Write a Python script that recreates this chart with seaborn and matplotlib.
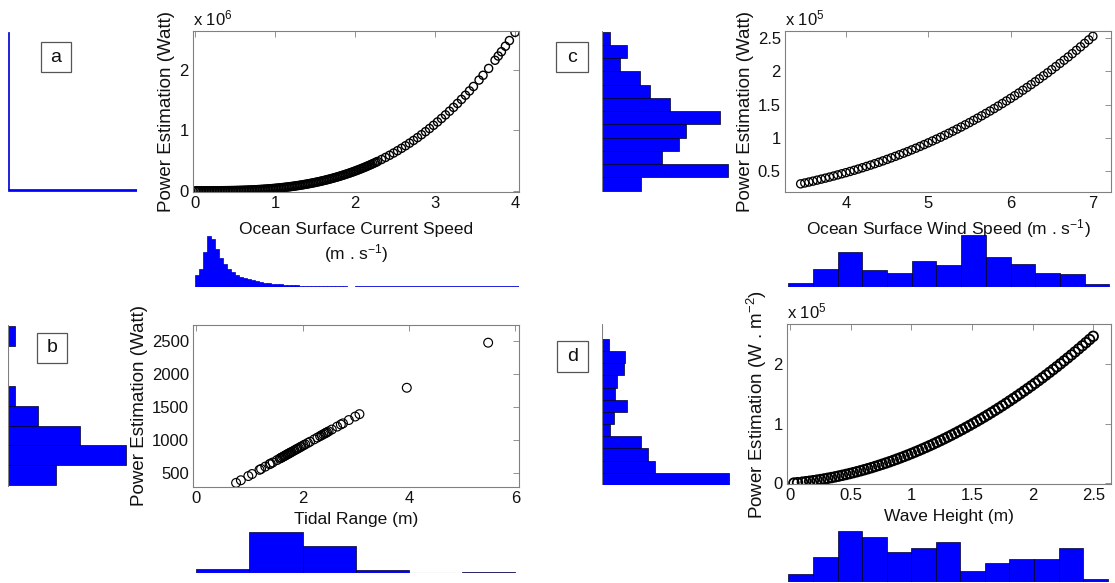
import numpy as np
import matplotlib
matplotlib.use("Agg")
import matplotlib.pyplot as plt
import seaborn as sns
from matplotlib.patches import Rectangle
from matplotlib.ticker import FormatStrFormatter

# ---- a: ocean surface current (power in x 1e6 W) ----
current_speed = [0.00, 0.04, 0.08, 0.12, 0.16, 0.20, 0.24, 0.28, 0.32, 0.36, 0.40, 0.44, 0.48, 0.52,
                 0.56, 0.60, 0.64, 0.68, 0.72, 0.76, 0.80, 0.84, 0.88, 0.92, 0.96, 1.00, 1.04, 1.08,
                 1.12, 1.16, 1.20, 1.24, 1.28, 1.32, 1.36, 1.40, 1.44, 1.48, 1.52, 1.56, 1.60, 1.64,
                 1.68, 1.72, 1.76, 1.80, 1.84, 1.88, 1.92, 1.96, 2.00, 2.04, 2.08, 2.12, 2.16, 2.20,
                 2.24, 2.28, 2.33, 2.38, 2.43, 2.48, 2.53, 2.58, 2.63, 2.68, 2.73, 2.78, 2.83, 2.88,
                 2.93, 2.98, 3.03, 3.08, 3.13, 3.18, 3.23, 3.28, 3.33, 3.38, 3.43, 3.48, 3.55, 3.60,
                 3.67, 3.75, 3.79, 3.83, 3.88, 3.93, 4.00,
                 0.02, 0.06, 0.10, 0.14, 0.18, 0.22, 0.26, 0.30, 0.34, 0.38, 0.42, 0.46, 0.50, 0.54,
                 0.58, 0.62, 0.66, 0.70, 0.74, 0.78, 0.82, 0.86, 0.90, 0.94, 0.98, 1.02, 1.06, 1.10,
                 1.14, 1.18, 1.22, 1.26, 1.30, 1.34, 1.38, 1.42, 1.46, 1.50, 1.54, 1.58, 1.62, 1.66,
                 1.70, 1.74, 1.78, 1.82, 1.86, 1.90, 1.94, 1.98, 2.02, 2.06, 2.10, 2.14, 2.18, 2.22,
                 2.26]
current_power = [0.0000, 0.0000, 0.0000, 0.0001, 0.0002, 0.0003, 0.0006, 0.0009, 0.0013, 0.0019,
                 0.0026, 0.0035, 0.0045, 0.0058, 0.0072, 0.0089, 0.0108, 0.0129, 0.0153, 0.0180,
                 0.0210, 0.0243, 0.0280, 0.0320, 0.0363, 0.0411, 0.0462, 0.0517, 0.0577, 0.0641,
                 0.0709, 0.0783, 0.0861, 0.0944, 0.1033, 0.1126, 0.1226, 0.1331, 0.1442, 0.1558,
                 0.1681, 0.1811, 0.1946, 0.2089, 0.2238, 0.2394, 0.2557, 0.2728, 0.2905, 0.3091,
                 0.3284, 0.3485, 0.3694, 0.3911, 0.4137, 0.4371, 0.4614, 0.4865, 0.5193, 0.5534,
                 0.5890, 0.6261, 0.6648, 0.7050, 0.7468, 0.7902, 0.8352, 0.8820, 0.9304, 0.9806,
                 1.0326, 1.0863, 1.1419, 1.1994, 1.2588, 1.3200, 1.3833, 1.4486, 1.5158, 1.5851,
                 1.6565, 1.7300, 1.8365, 1.9152, 2.0291, 2.1647, 2.2348, 2.3063, 2.3978, 2.4917,
                 2.6272,
                 0.0000, 0.0000, 0.0000, 0.0001, 0.0002, 0.0004, 0.0007, 0.0011, 0.0016, 0.0023,
                 0.0030, 0.0040, 0.0051, 0.0065, 0.0080, 0.0098, 0.0118, 0.0141, 0.0166, 0.0195,
                 0.0226, 0.0261, 0.0299, 0.0341, 0.0386, 0.0436, 0.0489, 0.0546, 0.0608, 0.0674,
                 0.0745, 0.0821, 0.0902, 0.0988, 0.1079, 0.1175, 0.1278, 0.1385, 0.1499, 0.1619,
                 0.1745, 0.1878, 0.2017, 0.2162, 0.2315, 0.2475, 0.2641, 0.2816, 0.2997, 0.3187,
                 0.3384, 0.3589, 0.3802, 0.4023, 0.4253, 0.4491, 0.4739]
current_speed_counts = [12, 18, 35, 51, 48, 38, 29, 23, 18, 15, 12, 10.5, 9, 8, 7, 6, 5.2, 4.5, 4, 3.5,
                        3, 2.7, 2.4, 2.1, 1.9, 1.7, 1.5, 1.3, 1.2, 1.1, 1.0, 0.9, 0.8, 0.8, 0.7, 0.7,
                        0.6, 0.6, 0.5, 0.5, 1.0]
current_power_counts = [129, 1.0]

# ---- b: tidal range ----
tidal_range = [0.75, 0.84, 0.98, 1.05, 1.19, 1.22, 1.30, 1.38, 1.40, 1.44, 1.52, 1.57, 1.60, 1.60,
               1.63, 1.65, 1.67, 1.68, 1.70, 1.72, 1.74, 1.75, 1.77, 1.79, 1.82, 1.85, 1.88, 1.90,
               1.93, 1.96, 1.98, 2.02, 2.05, 2.10, 2.14, 2.22, 2.28, 2.33, 2.36, 2.39, 2.42, 2.44,
               2.46, 2.49, 2.55, 2.65, 2.72, 2.76, 2.87, 2.99, 3.07, 3.96, 5.49]
tidal_power = [355, 395, 458, 489, 552, 565, 601, 637, 646, 663, 699, 722, 735, 735, 748, 757, 766,
               771, 780, 789, 798, 802, 811, 820, 833, 847, 860, 869, 882, 896, 905, 923, 936, 958,
               976, 1012, 1039, 1061, 1075, 1088, 1101, 1110, 1119, 1133, 1160, 1204, 1236, 1253,
               1303, 1356, 1392, 1790, 2470]
tidal_range_counts = [4.3, 40.7, 26.7, 3.3, 0, 1.3]
tidal_power_counts = [47.7, 118.3, 71.7, 30, 6.7, 0, 0, 6.7]

# ---- c: ocean surface wind (power in x 1e5 W) ----
wind_speed = [3.45, 3.50, 3.55, 3.60, 3.65, 3.70, 3.75, 3.80, 3.85, 3.90, 3.95, 4.00, 4.05, 4.10,
              4.15, 4.20, 4.25, 4.30, 4.35, 4.40, 4.45, 4.50, 4.55, 4.60, 4.65, 4.70, 4.75, 4.80,
              4.85, 4.90, 4.95, 5.00, 5.05, 5.10, 5.15, 5.20, 5.25, 5.30, 5.35, 5.40, 5.45, 5.50,
              5.55, 5.60, 5.65, 5.70, 5.75, 5.80, 5.85, 5.90, 5.95, 6.00, 6.05, 6.10, 6.15, 6.20,
              6.25, 6.30, 6.35, 6.40, 6.45, 6.50, 6.55, 6.60, 6.65, 6.70, 6.75, 6.80, 6.85, 6.90,
              6.95, 7.00]
wind_power = [0.303, 0.316, 0.330, 0.344, 0.359, 0.374, 0.389, 0.405, 0.421, 0.438, 0.455, 0.472,
              0.490, 0.508, 0.527, 0.546, 0.566, 0.586, 0.607, 0.628, 0.650, 0.672, 0.695, 0.718,
              0.742, 0.766, 0.790, 0.816, 0.841, 0.868, 0.895, 0.922, 0.950, 0.978, 1.007, 1.037,
              1.067, 1.098, 1.129, 1.161, 1.194, 1.227, 1.261, 1.295, 1.330, 1.366, 1.402, 1.439,
              1.477, 1.515, 1.554, 1.593, 1.633, 1.674, 1.716, 1.758, 1.801, 1.844, 1.889, 1.934,
              1.979, 2.026, 2.073, 2.121, 2.169, 2.218, 2.268, 2.319, 2.371, 2.423, 2.476, 2.530]
wind_speed_counts = [4, 18, 35, 16.7, 14, 26.3, 22.3, 52.3, 30, 23.3, 14, 13, 3.3]
wind_power_counts = [39, 126, 60, 76.7, 84.3, 117.7, 67.7, 48.3, 37.7, 17.7, 25, 8.3]

# ---- d: wave height (power in x 1e5 W/m2) ----
wave_height = [0.03, 0.06, 0.10, 0.13, 0.16, 0.19, 0.22, 0.25, 0.28, 0.31, 0.34, 0.37, 0.40, 0.43,
               0.46, 0.49, 0.52, 0.55, 0.58, 0.61, 0.64, 0.67, 0.70, 0.73, 0.76, 0.79, 0.82, 0.85,
               0.88, 0.91, 0.94, 0.97, 1.00, 1.03, 1.06, 1.09, 1.12, 1.15, 1.18, 1.21, 1.24, 1.27,
               1.30, 1.33, 1.36, 1.39, 1.42, 1.45, 1.48, 1.51, 1.54, 1.57, 1.60, 1.63, 1.66, 1.69,
               1.72, 1.75, 1.78, 1.81, 1.84, 1.87, 1.90, 1.93, 1.96, 1.99, 2.02, 2.05, 2.08, 2.11,
               2.14, 2.17, 2.20, 2.23, 2.26, 2.29, 2.32, 2.35, 2.38, 2.41, 2.44, 2.47, 2.50]
wave_power = [0.0056, 0.0118, 0.0209, 0.0285, 0.0366, 0.0453, 0.0546, 0.0644, 0.0749, 0.0859,
              0.0975, 0.1097, 0.1225, 0.1358, 0.1498, 0.1643, 0.1794, 0.1951, 0.2113, 0.2282,
              0.2456, 0.2636, 0.2822, 0.3013, 0.3211, 0.3414, 0.3623, 0.3838, 0.4059, 0.4286,
              0.4518, 0.4756, 0.5000, 0.5250, 0.5505, 0.5767, 0.6034, 0.6307, 0.6586, 0.6871,
              0.7161, 0.7458, 0.7760, 0.8068, 0.8381, 0.8701, 0.9026, 0.9358, 0.9695, 1.0037,
              1.0386, 1.0741, 1.1101, 1.1467, 1.1839, 1.2217, 1.2600, 1.2989, 1.3385, 1.3786,
              1.4192, 1.4605, 1.5023, 1.5448, 1.5878, 1.6313, 1.6755, 1.7203, 1.7656, 1.8115,
              1.8580, 1.9051, 1.9527, 2.0010, 2.0498, 2.0992, 2.1492, 2.1997, 2.2509, 2.3026,
              2.3549, 2.4078, 2.4613]
wave_height_counts = [8.3, 25, 51, 45, 30, 34.3, 40, 10.7, 19.3, 23.3, 23.3, 34, 3.3]
wave_power_counts = [126.7, 53.3, 45.7, 39, 8.3, 11.7, 25, 13.3, 15, 21.7, 22.7, 6.7, 0]

sns.set_theme(style="white")
plt.rcParams["font.family"] = ["Liberation Sans", "DejaVu Sans"]
plt.rcParams["mathtext.fontset"] = "custom"
plt.rcParams["mathtext.rm"] = "Liberation Sans"
plt.rcParams["mathtext.it"] = "Liberation Sans"

W, H = 1115, 583
fig = plt.figure(figsize=(W / 100, H / 100), dpi=100)

def box(x0, y0, x1, y1):
    return fig.add_axes([x0 / W, 1 - y1 / H, (x1 - x0) / W, (y1 - y0) / H])

def scatter(ax, x, y, xlim, ylim, xlabel, ylabel, s=34, lw=0.85):
    sns.scatterplot(x=x, y=y, ax=ax, marker="o", s=s, facecolor="none",
                    edgecolor="black", linewidth=lw, legend=False)
    ax.set_xlim(xlim)
    ax.set_ylim(ylim)
    ax.set_xlabel(xlabel, fontsize=12.5, color="#111111", labelpad=4)
    ax.set_ylabel(ylabel, fontsize=13.5, color="#111111", labelpad=3)
    for sp in ax.spines.values():
        sp.set_color("#808080")
        sp.set_linewidth(0.8)
    ax.tick_params(direction="in", top=True, right=True, length=4, width=0.6,
                   color="#808080", labelsize=12, labelcolor="#111111", pad=3)
    ax.xaxis.set_major_formatter(FormatStrFormatter("%g"))
    ax.yaxis.set_major_formatter(FormatStrFormatter("%g"))

def xhist(ax, edges, counts, xlim, top, ec="#000022", baseline=True):
    edges = [float(e) for e in edges]
    mids = [(a + b) / 2 for a, b in zip(edges[:-1], edges[1:])]
    sns.histplot(x=mids, weights=counts, bins=edges, ax=ax, color="#0000ff",
                 edgecolor=ec, linewidth=0.5, alpha=1)
    if baseline:
        ax.axhline(0, color="#808080", lw=0.8)
    ax.set_xlim(xlim)
    ax.set_ylim(0, top)
    ax.set_axis_off()

def yhist(ax, edges, counts, ylim, right, ec="#000022", baseline=True):
    edges = [float(e) for e in edges]
    mids = [(a + b) / 2 for a, b in zip(edges[:-1], edges[1:])]
    sns.histplot(y=mids, weights=counts, bins=edges, ax=ax, color="#0000ff",
                 edgecolor=ec, linewidth=0.5, alpha=1)
    if baseline:
        ax.axvline(0, color="#808080", lw=0.8)
    ax.set_ylim(ylim)
    ax.set_xlim(0, right)
    ax.set_axis_off()

def tag(x0, y0, x1, y1, letter):
    fig.add_artist(Rectangle((x0 / W, 1 - y1 / H), (x1 - x0) / W, (y1 - y0) / H,
                             transform=fig.transFigure, fc="white", ec="#555555", lw=0.9))
    fig.text((x0 + x1) / 2 / W, 1 - (y0 + y1) / 2 / H, letter, ha="center", va="center",
             fontsize=14, color="#111111")

def multiplier(ax, power):
    ax.text(0, 1.015, r"x 10$^{%d}$" % power, transform=ax.transAxes, ha="left",
            va="bottom", fontsize=12, color="#111111")

# panel a
ax = box(193, 31, 519, 192)
scatter(ax, current_speed, current_power, (-0.03, 4.05), (-0.02, 2.65),
        "Ocean Surface Current Speed\n(m . s$^{-1}$)", "Power Estimation (Watt)", lw=1.0)
ax.xaxis.label.set_linespacing(1.25)
ax.xaxis.labelpad = 8
ax.set_xticks([0, 1, 2, 3, 4])
ax.set_yticks([0, 1, 2])
multiplier(ax, 6)
xhist(box(193, 232, 519, 287), list(np.linspace(0, 2, 41)) + [4.05], current_speed_counts,
      (-0.03, 4.05), 55, ec="#0000cc", baseline=False)
yhist(box(8, 31, 137, 192), [0, 0.03, 2.63], current_power_counts, (-0.02, 2.65), 129,
      ec="#0000cc", baseline=False)
tag(41, 42, 71, 72, "a")

# panel b
ax = box(193, 325, 519, 487)
scatter(ax, tidal_range, tidal_power, (-0.06, 6.07), (293, 2737),
        "Tidal Range (m)", "Power Estimation (Watt)", s=40)
ax.set_xticks([0, 2, 4, 6])
ax.set_yticks([500, 1000, 1500, 2000, 2500])
xhist(box(193, 530, 519, 573), np.linspace(0, 6, 7), tidal_range_counts, (-0.06, 6.07), 43)
yhist(box(8, 325, 137, 487), np.linspace(320, 2720, 9), tidal_power_counts, (293, 2737), 129)
tag(37, 333, 67, 363, "b")

# panel c
ax = box(785, 31, 1111, 192)
scatter(ax, wind_speed, wind_power, (3.26, 7.22), (0.18, 2.61),
        "Ocean Surface Wind Speed (m . s$^{-1}$)", "Power Estimation (Watt)", lw=0.95)
ax.set_xticks([4, 5, 6, 7])
ax.set_yticks([0.5, 1, 1.5, 2, 2.5])
multiplier(ax, 5)
xhist(box(785, 235, 1111, 287), np.linspace(3.3, 7.2, 14), wind_speed_counts, (3.26, 7.22), 52.5)
yhist(box(602, 31, 730, 192), np.linspace(0.2, 2.6, 13), wind_power_counts, (0.18, 2.61), 128)
tag(556, 42, 588, 72, "c")

# panel d
ax = box(787, 324, 1111, 484)
scatter(ax, wave_height, wave_power, (-0.027, 2.647), (-0.01, 2.667),
        "Wave Height (m)", "Power Estimation (W . m$^{-2}$)", s=48, lw=1.3)
ax.set_xticks([0, 0.5, 1, 1.5, 2, 2.5])
ax.set_yticks([0, 1, 2])
multiplier(ax, 5)
xhist(box(787, 531, 1111, 582), np.linspace(-0.015, 2.62, 14), wave_height_counts,
      (-0.027, 2.647), 51)
yhist(box(602, 324, 730, 485), np.linspace(-0.01, 2.62, 14), wave_power_counts,
      (-0.01, 2.667), 128)
tag(557, 341, 588, 372, "d")

fig.savefig("out.png", dpi=100, facecolor="white")
